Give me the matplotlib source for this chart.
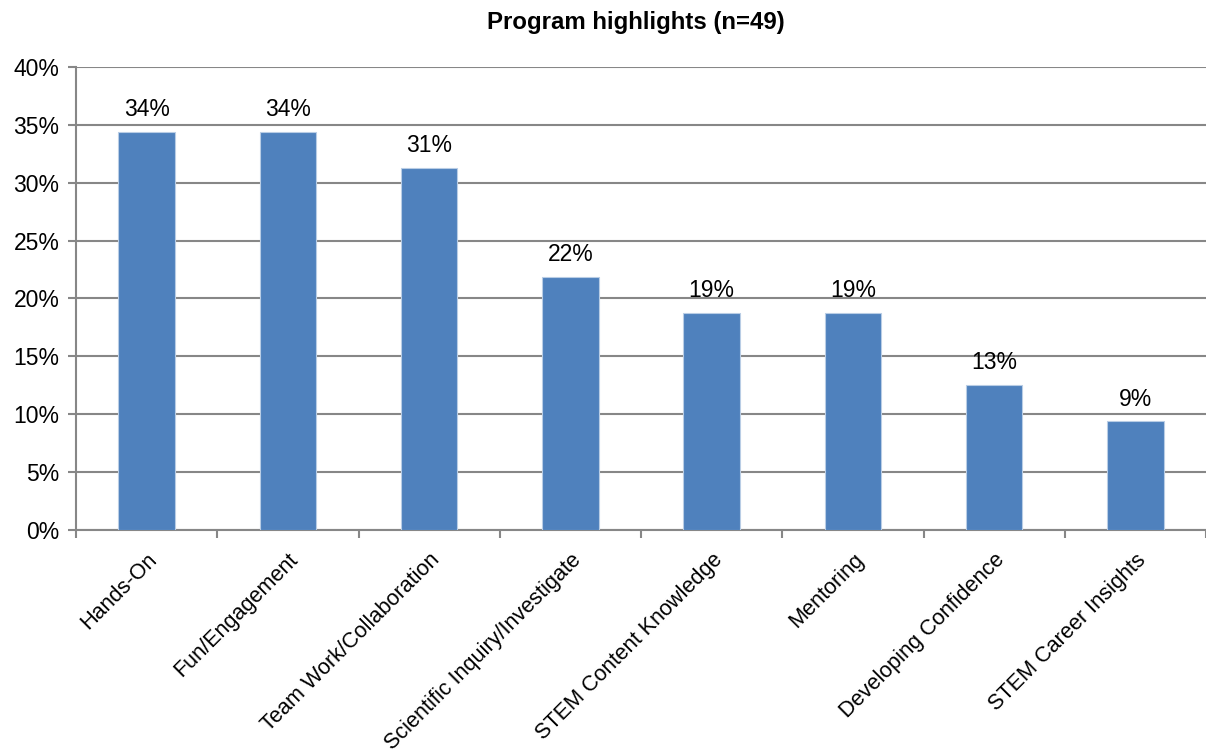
import numpy as np
import matplotlib
matplotlib.use("Agg")
import matplotlib.pyplot as plt
from matplotlib.ticker import FuncFormatter

plt.rcParams['font.family'] = ['Liberation Sans', 'DejaVu Sans']

categories = ["Hands-On", "Fun/Engagement", "Team Work/Collaboration",
              "Scientific Inquiry/Investigate", "STEM Content Knowledge",
              "Mentoring", "Developing Confidence", "STEM Career Insights"]
values = [34.375, 34.375, 31.25, 21.875, 18.75, 18.75, 12.5, 9.375]
value_labels = ["34%", "34%", "31%", "22%", "19%", "19%", "13%", "9%"]
yticks = [0, 5, 10, 15, 20, 25, 30, 35, 40]

grid_col = "#878787"
bar_col = "#4F81BD"

fig = plt.figure(figsize=(12.06, 7.55), dpi=100)
ax = fig.add_axes([76/1206, 225/755, 1130/1206, 463/755])

x = np.arange(len(categories))
ax.bar(x, values, width=0.4, color=bar_col, edgecolor="#B9CDE5", linewidth=0.8, zorder=3)

for xi, v, lab in zip(x, values, value_labels):
    ax.annotate(lab, (xi, v), xytext=(0, 11.5), textcoords="offset points",
                ha="center", va="baseline", fontsize=16.5, color="black")

ax.set_xlim(-0.5, -0.5 + 1130/141.7)
ax.set_ylim(0, 40)
ax.set_yticks(yticks)
ax.yaxis.set_major_formatter(FuncFormatter(lambda v, p: f"{int(v)}%"))
ax.grid(axis="y", color=grid_col, linewidth=1.5, zorder=0)

# tick marks on the category boundaries, labels at the centers
ax.set_xticks(np.arange(-0.5, len(categories), 1.0))
ax.set_xticklabels([])
ax.set_xticks(x, minor=True)
ax.set_xticklabels(categories, minor=True, rotation=45, ha="right", va="top",
                   rotation_mode="anchor", fontsize=15.6)
ax.tick_params(axis="x", which="minor", length=0, pad=14)
ax.tick_params(axis="x", which="major", length=6, width=1.5, color=grid_col)
ax.tick_params(axis="y", length=6, width=1.5, color=grid_col, labelsize=16.5, pad=6)

for s in ["top", "right"]:
    ax.spines[s].set_visible(False)
for s in ["left", "bottom"]:
    ax.spines[s].set_color(grid_col)
    ax.spines[s].set_linewidth(1.5)

fig.text(636/1206, 1 - 22/755, "Program highlights (n=49)", ha="center", va="center",
         fontsize=17.3, fontweight="bold")

fig.savefig("out.png", dpi=100)
